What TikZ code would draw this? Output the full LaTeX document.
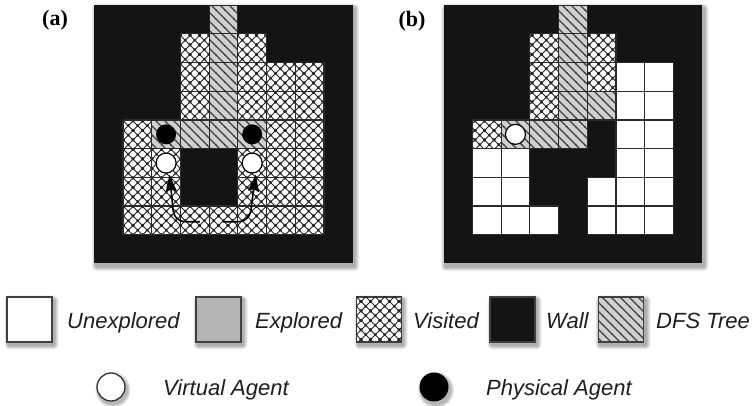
\documentclass[tikz,border=0pt]{standalone}
\usepackage{fontspec}
\newfontfamily\legfont{Liberation Sans}
\newfontfamily\labfont{Liberation Serif}
\usetikzlibrary{patterns,arrows.meta,calc}
\definecolor{wallblack}{HTML}{141414}
\definecolor{explgray}{HTML}{B4B4B4}
\definecolor{dfsgray}{HTML}{D0D0D0}
\definecolor{gridgray}{HTML}{2A2A2A}
\definecolor{textgray}{HTML}{1E1E1E}

\pgfdeclarepatternformonly{dfshatch}{\pgfpoint{-1pt}{-1pt}}{\pgfpoint{10pt}{10pt}}{\pgfpoint{9pt}{9pt}}{%
  \pgfsetlinewidth{1.2pt}%
  \pgfpathmoveto{\pgfpoint{-0.5pt}{9.5pt}}%
  \pgfpathlineto{\pgfpoint{9.5pt}{-0.5pt}}%
  \pgfusepath{stroke}%
}
\pgfdeclarepatternformonly{visithatch}{\pgfpoint{-2pt}{-2pt}}{\pgfpoint{11.5pt}{11.5pt}}{\pgfpoint{9.5pt}{9.5pt}}{%
  \pgfsetlinewidth{1pt}%
  \pgfpathmoveto{\pgfpoint{-0.5pt}{-0.5pt}}\pgfpathlineto{\pgfpoint{10pt}{10pt}}%
  \pgfpathmoveto{\pgfpoint{-0.5pt}{10pt}}\pgfpathlineto{\pgfpoint{10pt}{-0.5pt}}%
  \pgfusepath{stroke}%
  \pgfpathcircle{\pgfpoint{4.75pt}{4.75pt}}{1.5pt}%
  \pgfpathcircle{\pgfpoint{0pt}{0pt}}{1.5pt}%
  \pgfpathcircle{\pgfpoint{9.5pt}{0pt}}{1.5pt}%
  \pgfpathcircle{\pgfpoint{0pt}{9.5pt}}{1.5pt}%
  \pgfpathcircle{\pgfpoint{9.5pt}{9.5pt}}{1.5pt}%
  \pgfusepath{fill}%
}

\tikzset{
  wallcell/.style={fill=wallblack},
  viscell/.style={fill=white,postaction={pattern=visithatch,pattern color=black!85}},
  dfscell/.style={fill=dfsgray,postaction={pattern=dfshatch,pattern color=black!75}},
  unexcell/.style={fill=white},
  explcell/.style={fill=explgray},
  gridline/.style={draw=gridgray,line width=1.2pt},
  legsq/.style={minimum size=45pt,inner sep=0pt,draw=black!75,line width=1.3pt},
  legtext/.style={font=\legfont\itshape\fontsize{22}{26}\selectfont,text=textgray,inner sep=0pt,anchor=base west},
  physagent/.style={circle,fill=black,inner sep=0pt,minimum size=20pt},
  virtagent/.style={circle,fill=white,draw=black,line width=1.2pt,inner sep=0pt,minimum size=20pt},
  movearrow/.style={line width=1.6pt,-{Stealth[length=17pt,width=11pt,inset=2pt]},shorten >=1.5pt},
  panellabel/.style={font=\labfont\bfseries\fontsize{22}{26}\selectfont,inner sep=0pt},
}

\newcommand\boxshadow[4]{%
  \foreach \k in {1,...,5}{%
    \fill[black,opacity=0.07,rounded corners=\k pt] (#1+2-\k*0.9,#2+3-\k*0.9) rectangle (#3+2+\k*0.9,#4+3+\k*0.9);}}
\newcommand\circshadow[3]{%
  \foreach \k in {1,...,4}{%
    \fill[black,opacity=0.08] (#1+2,#2+3) circle ({#3+\k*0.9});}}

\def\aV{3/1,5/1,3/2,5/2,6/2,7/2,3/3,5/3,6/3,7/3,1/4,6/4,7/4,1/5,2/5,5/5,6/5,7/5,1/6,2/6,5/6,6/6,7/6,1/7,2/7,3/7,4/7,5/7,6/7,7/7}
\def\aD{4/0,4/1,4/2,4/3,2/4,3/4,4/4,5/4}
\def\bV{3/1,5/1,3/2,5/2,3/3,1/4}
\def\bD{4/0,4/1,4/2,4/3,5/3,2/4,3/4,4/4}
\def\bU{6/2,7/2,6/3,7/3,6/4,7/4,1/5,2/5,6/5,7/5,1/6,2/6,5/6,6/6,7/6,1/7,2/7,3/7,5/7,6/7,7/7}

\begin{document}
\begin{tikzpicture}[x=1pt,y=-1pt]
\useasboundingbox (0,0) rectangle (756,406);
\fill[white] (0,0) rectangle (756,406);

% panel labels
\node[panellabel] (la) at (55,20.5) {(a)};
\node[panellabel] (lb) at (412,21.5) {(b)};

% ---------- panel (a)
\boxshadow{94.35}{5.2}{352.65}{263.5}
\begin{scope}[shift={(94.35,5.2)},x=28.7pt,y=-28.7pt]
  \fill[wallcell] (0,0) rectangle (9,9);
  \foreach \c/\r in \aV {\path[viscell] (\c,\r) rectangle ++(1,1);}
  \foreach \c/\r in \aD {\path[dfscell] (\c,\r) rectangle ++(1,1);}
  \foreach \c/\r in \aV {\path[gridline] (\c,\r) rectangle ++(1,1);}
  \foreach \c/\r in \aD {\path[gridline] (\c,\r) rectangle ++(1,1);}
  \node[physagent] (paL) at (2.5,4.5) {};
  \node[physagent] (paR) at (5.5,4.5) {};
  \node[virtagent] (vaL) at (2.5,5.5) {};
  \node[virtagent] (vaR) at (5.5,5.5) {};
  \coordinate (stL) at (3.68,7.544);
  \coordinate (stR) at (4.49,7.544);
  \draw[movearrow] (stL) -- (3.19,7.544) .. controls (2.9,7.544) and (2.73,7.35) .. (2.73,7.0) -- (vaL.-72);
  \draw[movearrow] (stR) -- (5.0,7.544) .. controls (5.3,7.544) and (5.46,7.35) .. (5.47,7.0) -- (vaR.-69);
\end{scope}

% ---------- panel (b)
\boxshadow{443.7}{5.2}{702.0}{263.5}
\begin{scope}[shift={(443.7,5.2)},x=28.7pt,y=-28.7pt]
  \fill[wallcell] (0,0) rectangle (9,9);
  \foreach \c/\r in \bV {\path[viscell] (\c,\r) rectangle ++(1,1);}
  \foreach \c/\r in \bD {\path[dfscell] (\c,\r) rectangle ++(1,1);}
  \foreach \c/\r in \bU {\path[unexcell] (\c,\r) rectangle ++(1,1);}
  \foreach \c/\r in \bV {\path[gridline] (\c,\r) rectangle ++(1,1);}
  \foreach \c/\r in \bD {\path[gridline] (\c,\r) rectangle ++(1,1);}
  \foreach \c/\r in \bU {\path[gridline] (\c,\r) rectangle ++(1,1);}
  \node[virtagent] (vaB) at (2.5,4.5) {};
\end{scope}

% ---------- legend row 1
\boxshadow{7}{297}{52}{342}
\node[legsq,unexcell] (lu) at (29.5,319.5) {};
\node[legtext] (tu) at (67,329) {Unexplored};
\boxshadow{196}{297}{241}{342}
\node[legsq,explcell] (le) at (218.5,319.5) {};
\node[legtext] (te) at (255,329) {Explored};
\boxshadow{357}{297}{401}{342}
\node[legsq,viscell] (lv) at (379,319.5) {};
\node[legtext] (tv) at (413,329) {Visited};
\boxshadow{490}{297}{535}{342}
\node[legsq,wallcell] (lw) at (512.5,319.5) {};
\node[legtext] (tw) at (546,329) {Wall};
\boxshadow{598}{297}{644}{342}
\node[legsq,dfscell] (ld) at (621,319.5) {};
\node[legtext] (td) at (656,329) {DFS Tree};

% ---------- legend row 2
\circshadow{111}{387}{14}
\node[circle,minimum size=28pt,inner sep=0pt,fill=white,draw=black!80,line width=1.3pt] (lva) at (111,387) {};
\node[legtext] (tva) at (163,395.5) {Virtual Agent};
\circshadow{434}{387}{14.5}
\node[circle,minimum size=29pt,inner sep=0pt,fill=black] (lpa) at (434,387) {};
\node[legtext] (tpa) at (486,395.5) {Physical Agent};
\end{tikzpicture}
\end{document}
